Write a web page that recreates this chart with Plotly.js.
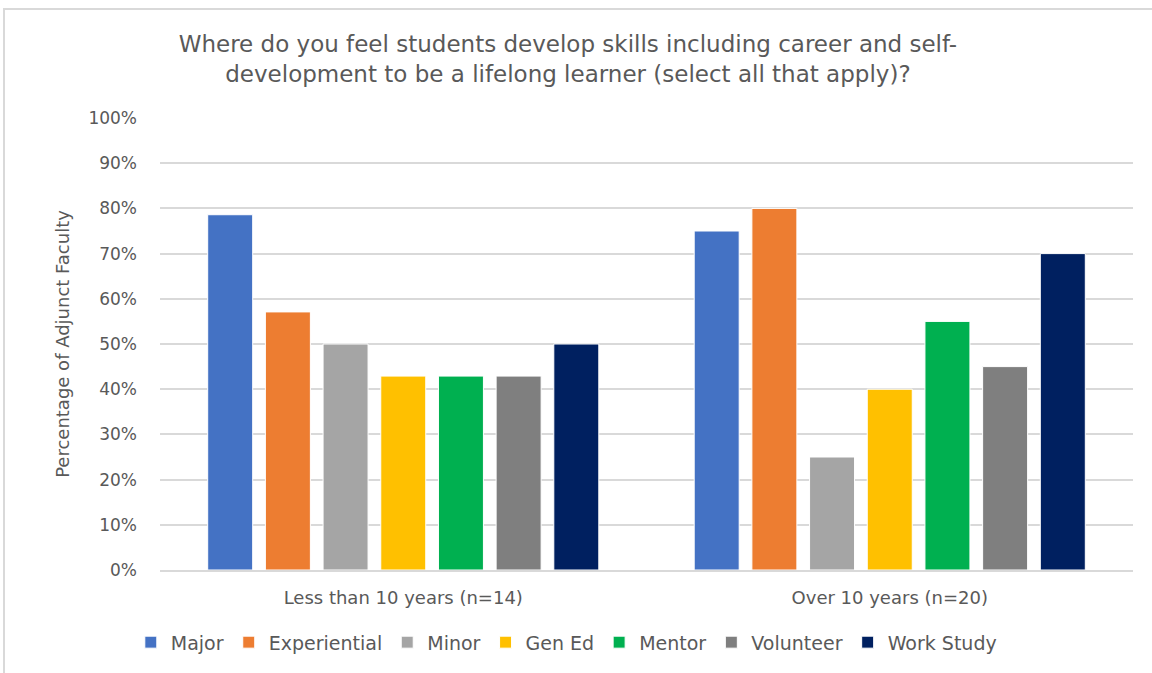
<!DOCTYPE html>
<html><head><meta charset="utf-8">
<script src="https://cdn.plot.ly/plotly-3.0.1.min.js"></script>
<style>
body{margin:0;padding:0;background:#fff;}
#chart{width:1152px;height:673px;}
#frame{position:absolute;left:3px;top:8px;width:1160px;height:700px;border-left:2px solid #d9d9d9;border-top:2px solid #d9d9d9;pointer-events:none;}
</style></head>
<body>
<div id="chart"></div>
<div id="frame"></div>
<script>
const categories = ["Less than 10 years (n=14)", "Over 10 years (n=20)"];
const seriesNames = ["Major", "Experiential", "Minor", "Gen Ed", "Mentor", "Volunteer", "Work Study"];
const seriesColors = ["#4472C4", "#ED7D31", "#A5A5A5", "#FFC000", "#00B050", "#7F7F7F", "#002060"];
const major = [0.786, 0.75];
const experiential = [0.571, 0.80];
const minor = [0.50, 0.25];
const genEd = [0.429, 0.40];
const mentor = [0.429, 0.55];
const volunteer = [0.429, 0.45];
const workStudy = [0.50, 0.70];
const yTickVals = [0,0.1,0.2,0.3,0.4,0.5,0.6,0.7,0.8,0.9,1.0];
const yTickText = ["0%","10%","20%","30%","40%","50%","60%","70%","80%","90%","100%"];

const seriesValues = [major, experiential, minor, genEd, mentor, volunteer, workStudy];
const font = "DejaVu Sans, Verdana, sans-serif";
const traces = seriesNames.map((n, i) => ({
  type: "bar", name: n, x: categories, y: seriesValues[i],
  marker: {color: seriesColors[i], line: {color: "#ffffff", width: 1}},
  hoverinfo: "x+y+name"
}));

const layout = {
  width: 1152, height: 673,
  margin: {l: 160, r: 19, t: 118, b: 103},
  paper_bgcolor: "#fff", plot_bgcolor: "#fff",
  barmode: "group", bargap: 0.17, bargroupgap: 0.22,
  font: {family: font, color: "#595959"},
  title: {
    text: "Where do you feel students develop skills including career and self-<br>development to be a lifelong learner (select all that apply)?",
    font: {family: font, size: 23, color: "#595959"},
    x: 0.493, xanchor: "center", xref: "container", y: 0.922, yanchor: "middle", yref: "container"
  },
  xaxis: {
    tickfont: {family: font, size: 18, color: "#595959"},
    showline: true, linecolor: "#d9d9d9", linewidth: 2, ticks: "", showgrid: false,
    ticklabelstandoff: 10
  },
  yaxis: {
    range: [0, 1.0], tickvals: yTickVals, ticktext: yTickText,
    tickfont: {family: font, size: 17, color: "#595959"},
    gridcolor: "#d9d9d9", gridwidth: 2, zeroline: false, showline: false, ticks: "",
    ticklabelstandoff: 22,
    title: {text: "Percentage of Adjunct Faculty", font: {family: font, size: 18, color: "#595959"}, standoff: 14}
  },
  legend: {
    orientation: "h", x: -0.03, xanchor: "left", y: -0.16, yanchor: "middle",
    font: {family: font, size: 19, color: "#595959"}, traceorder: "normal",
    itemwidth: 30
  },
  showlegend: true
};
Plotly.newPlot("chart", traces, layout, {displayModeBar: false});
</script>
</body></html>
